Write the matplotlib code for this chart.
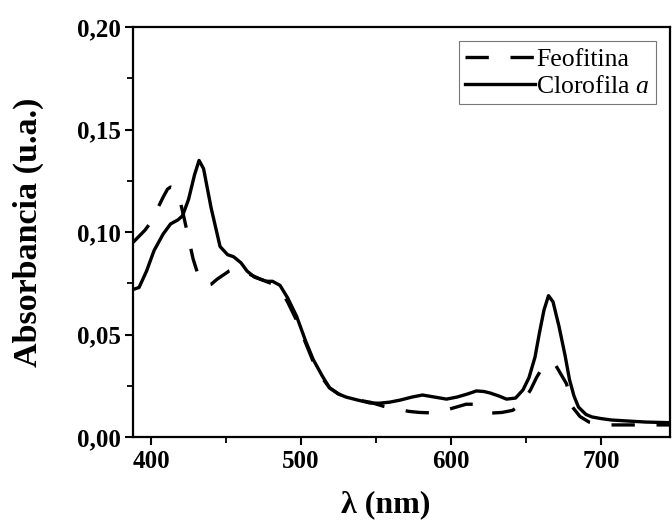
import matplotlib.pyplot as plt
from matplotlib.ticker import MultipleLocator, FuncFormatter

plt.rcParams["font.family"] = ["Liberation Serif", "DejaVu Serif"]
plt.rcParams["mathtext.fontset"] = "custom"
plt.rcParams["mathtext.rm"] = "Liberation Serif"
plt.rcParams["mathtext.it"] = "Liberation Serif:italic"

# Clorofila a (solid)
wl_clor = [388, 392, 397, 402, 408, 413, 418, 421, 425, 429, 432, 435, 440, 446, 451,
           455, 460, 464, 469, 473, 477, 481, 486, 491, 497, 503, 508, 514, 519, 525,
           530, 538, 546, 552, 559, 566, 574, 581, 589, 597, 604, 611, 617, 622, 626,
           632, 637, 643, 648, 652, 656, 659, 662, 665, 668, 672, 676, 679, 682, 685,
           690, 694, 700, 707, 718, 730, 746]
abs_clor = [0.072, 0.073, 0.081, 0.091, 0.099, 0.104, 0.106, 0.108, 0.116, 0.128, 0.135,
            0.131, 0.112, 0.093, 0.089, 0.088, 0.085, 0.081, 0.078, 0.077, 0.076, 0.076,
            0.074, 0.068, 0.059, 0.047, 0.038, 0.030, 0.024, 0.021, 0.0195, 0.018, 0.0166,
            0.0165, 0.017, 0.018, 0.0195, 0.0205, 0.0195, 0.0185, 0.0195, 0.021, 0.0225,
            0.0222, 0.0215, 0.020, 0.0185, 0.019, 0.023, 0.029, 0.039, 0.051, 0.062,
            0.069, 0.066, 0.054, 0.040, 0.028, 0.020, 0.0146, 0.011, 0.0098, 0.009,
            0.0083, 0.0078, 0.0073, 0.007]

# Feofitina (dashed)
wl_feo = [388, 392, 396, 400, 404, 408, 411, 413, 416, 418, 422, 425, 428, 431, 434,
          437, 440, 444, 448, 452, 457, 462, 467, 473, 480, 486, 491, 497, 503, 508,
          514, 519, 525, 530, 538, 546, 555, 564, 572, 579, 586, 592, 596, 603, 610,
          616, 621, 627, 634, 641, 647, 653, 657, 660, 663, 666, 669, 673, 677, 681,
          686, 692, 700, 707, 723, 746]
abs_feo = [0.095, 0.098, 0.101, 0.105, 0.111, 0.117, 0.121, 0.122, 0.121, 0.1195,
           0.107, 0.097, 0.087, 0.080, 0.0756, 0.074, 0.0745, 0.077, 0.079, 0.081,
           0.0822, 0.081, 0.079, 0.077, 0.075, 0.072, 0.066, 0.057, 0.046, 0.037,
           0.029, 0.024, 0.021, 0.0195, 0.018, 0.017, 0.015, 0.0137, 0.0125, 0.012,
           0.0118, 0.0122, 0.013, 0.0145, 0.016, 0.016, 0.014, 0.0117, 0.012, 0.013,
           0.016, 0.023, 0.029, 0.0327, 0.035, 0.036, 0.036, 0.031, 0.026, 0.0146,
           0.010, 0.0073, 0.0062, 0.0059, 0.0059, 0.0059]

fig = plt.figure(figsize=(6.72, 5.24), dpi=100)
ax = fig.add_axes([0.198, 0.166, 0.799, 0.782])

ax.plot(wl_feo, abs_feo, color="black", lw=2.4, linestyle=(0, (7, 6.5)),
        label="Feofitina")
ax.plot(wl_clor, abs_clor, color="black", lw=2.4, label="Clorofila $a$")

ax.set_xlim(388, 746)
ax.set_ylim(0, 0.20)
ax.xaxis.set_major_locator(MultipleLocator(100))
ax.xaxis.set_minor_locator(MultipleLocator(50))
ax.yaxis.set_major_locator(MultipleLocator(0.05))
ax.yaxis.set_minor_locator(MultipleLocator(0.025))
ax.yaxis.set_major_formatter(FuncFormatter(lambda v, p: f"{v:.2f}".replace(".", ",")))

for s in ax.spines.values():
    s.set_linewidth(1.6)
ax.tick_params(which="major", direction="out", length=6, width=1.5,
               labelsize=18, pad=3)
ax.tick_params(which="minor", direction="out", length=4, width=1.3)
for lab in ax.get_xticklabels() + ax.get_yticklabels():
    lab.set_fontweight("bold")

ax.set_xlabel("λ (nm)", fontsize=23, fontweight="bold")
ax.set_ylabel("Absorbancia (u.a.)", fontsize=24.5, fontweight="bold")
ax.xaxis.set_label_coords(0.47, -0.13)
ax.yaxis.set_label_coords(-0.166, 0.5)

leg = ax.legend(loc="upper right", fontsize=18.5, frameon=True, fancybox=False,
                handlelength=2.7, handletextpad=0.05, borderpad=0.25,
                labelspacing=0.15, borderaxespad=0.55)
leg.get_frame().set_edgecolor("#555555")
leg.get_frame().set_linewidth(0.8)

fig.savefig("out.png", dpi=100)
